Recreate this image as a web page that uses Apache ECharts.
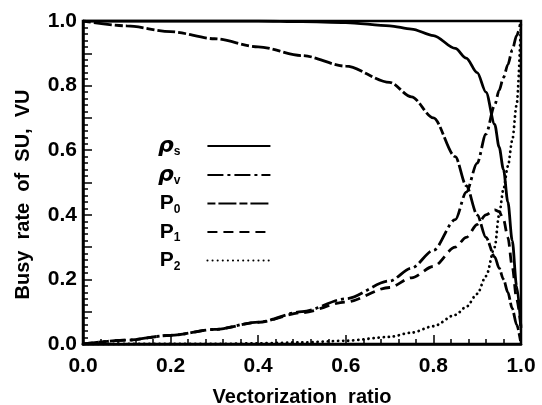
<!DOCTYPE html>
<html>
<head>
<meta charset="utf-8">
<script src="https://cdn.jsdelivr.net/npm/echarts@6/dist/echarts.min.js"></script>
<style>html,body{margin:0;padding:0;background:#fff;}#c{width:542px;height:405px;}</style>
</head>
<body>
<div id="c"></div>
<script>
// Vectorization ratio sample points
const xs   = [0, 0.1, 0.2, 0.3, 0.4, 0.5, 0.6, 0.7, 0.75, 0.8, 0.85, 0.875, 0.9, 0.92, 0.94, 0.95, 0.96, 0.97, 0.98, 0.99, 1.0];
// Busy rates / probabilities
const rhoS = [1.0, 1.0, 1.0, 1.0, 1.0, 0.998, 0.995, 0.985, 0.975, 0.955, 0.915, 0.885, 0.84, 0.78, 0.68, 0.61, 0.54, 0.44, 0.32, 0.18, 0.05];
const rhoV = [0, 0.012, 0.027, 0.045, 0.068, 0.1, 0.14, 0.195, 0.235, 0.29, 0.385, 0.47, 0.56, 0.65, 0.74, 0.785, 0.825, 0.865, 0.91, 0.955, 1.0];
const p0   = [1.0, 0.985, 0.967, 0.945, 0.92, 0.893, 0.86, 0.81, 0.765, 0.7, 0.58, 0.49, 0.4, 0.33, 0.27, 0.235, 0.2, 0.16, 0.11, 0.06, 0.0];
const p1   = [0, 0.012, 0.027, 0.045, 0.067, 0.097, 0.13, 0.175, 0.205, 0.24, 0.3, 0.33, 0.37, 0.4, 0.415, 0.41, 0.385, 0.33, 0.24, 0.14, 0.05];
const p2   = [0, 0, 0, 0, 0.002, 0.005, 0.01, 0.022, 0.035, 0.055, 0.09, 0.115, 0.155, 0.21, 0.3, 0.4, 0.48, 0.55, 0.63, 0.74, 1.0];
const xTicks = [0, 0.2, 0.4, 0.6, 0.8, 1.0];
const yTicks = [0, 0.2, 0.4, 0.6, 0.8, 1.0];

const FONT = "'Liberation Sans', Arial, sans-serif";
const pair = arr => xs.map((x, i) => [x, arr[i]]);

const defs = [
  {name: 'rs', data: rhoS, type: 'solid'},
  {name: 'rv', data: rhoV, type: [16, 4, 3, 4]},
  {name: 'P0', data: p0, type: [8, 3, 18, 3]},
  {name: 'P1', data: p1, type: [10, 6]},
  {name: 'P2', data: p2, type: [0.1, 5]}
];
const labels = {
  rs: '{g|ρ}{s|s}', rv: '{g|ρ}{s|v}', P0: '{p|P}{s|0}', P1: '{p|P}{s|1}', P2: '{p|P}{s|2}'
};

const chart = echarts.init(document.getElementById('c'), null, {renderer: 'canvas'});
chart.setOption({
  animation: false,
  backgroundColor: '#fff',
  grid: {left: 83, right: 21, top: 21, bottom: 61, outerBoundsMode: 'none', containLabel: false,
    show: true, borderColor: '#000', borderWidth: 2.5, backgroundColor: 'transparent'},
  legend: {
    orient: 'vertical', left: 153, top: 130, align: 'right',
    itemWidth: 63, itemHeight: 14, itemGap: 6,
    itemStyle: {opacity: 0},
    data: defs.map(d => d.name),
    formatter: n => labels[n],
    textStyle: {
      color: '#000', fontFamily: FONT, fontWeight: 'bold',
      rich: {
        g: {fontSize: 22, fontStyle: 'italic', fontWeight: 'bold', fontFamily: 'DejaVu Sans', color: '#000'},
        p: {fontSize: 21, fontWeight: 'bold', fontFamily: FONT, color: '#000'},
        s: {fontSize: 12, fontWeight: 'bold', fontFamily: FONT, color: '#000', verticalAlign: 'bottom', padding: [12, 22, 0, 0]}
      }
    }
  },
  xAxis: {
    type: 'value', min: 0, max: 1, interval: 0.2,
    name: 'Vectorization  ratio', nameLocation: 'middle', nameGap: 43,
    nameTextStyle: {fontSize: 20, fontWeight: 'bold', fontFamily: FONT, color: '#000'},
    axisLine: {show: true, lineStyle: {color: '#000', width: 2.5}},
    axisTick: {show: true, inside: true, length: 9, lineStyle: {color: '#000', width: 1.5}},
    minorTick: {show: true, splitNumber: 5, length: 5, lineStyle: {color: '#000', width: 1.5}},
    splitLine: {show: false},
    axisLabel: {fontSize: 21, fontWeight: 'bold', fontFamily: FONT, color: '#000', margin: 12,
      formatter: v => xTicks.some(t => Math.abs(t - v) < 1e-6) ? v.toFixed(1) : ''}
  },
  yAxis: {
    type: 'value', min: 0, max: 1, interval: 0.1,
    name: 'Busy  rate  of  SU,  VU', nameLocation: 'middle', nameGap: 50,
    nameTextStyle: {fontSize: 20, fontWeight: 'bold', fontFamily: FONT, color: '#000', padding: [0, 24, 0, 0]},
    axisLine: {show: true, lineStyle: {color: '#000', width: 2.5}},
    axisTick: {show: true, inside: true, length: 9, lineStyle: {color: '#000', width: 1.5}},
    minorTick: {show: true, splitNumber: 5, length: 5, lineStyle: {color: '#000', width: 1.5}},
    splitLine: {show: false},
    axisLabel: {fontSize: 21, fontWeight: 'bold', fontFamily: FONT, color: '#000', margin: 6,
      formatter: v => yTicks.some(t => Math.abs(t - v) < 1e-6) ? v.toFixed(1) : ''}
  },
  series: defs.map(d => ({
    name: d.name, type: 'line', data: pair(d.data), symbol: 'none',
    smooth: 0.3, smoothMonotone: 'x',
    lineStyle: {color: '#000', width: 2.8, type: d.type, cap: d.name === 'P2' ? 'round' : 'butt'},
    itemStyle: {color: '#000'}
  }))
});
</script>
</body>
</html>
